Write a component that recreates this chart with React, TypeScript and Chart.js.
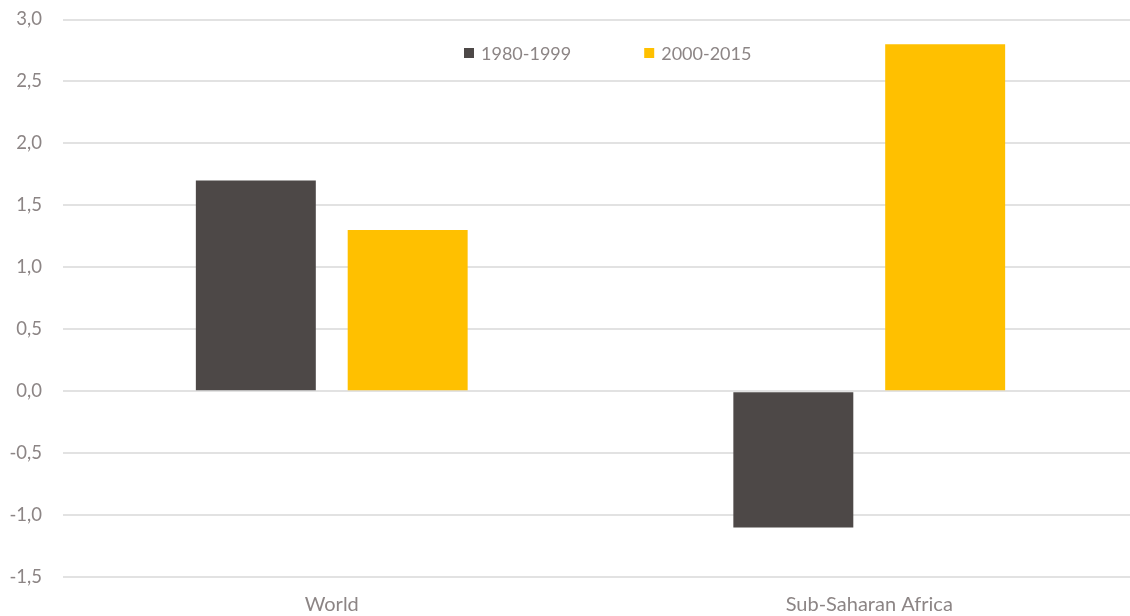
import React, { useEffect, useRef } from "react";
import { Chart, registerables } from "chart.js";

Chart.register(...registerables);

const categories = ["World", "Sub-Saharan Africa"];
const seriesNames = ["1980-1999", "2000-2015"];
const values1980 = [1.7, -1.1];
const values2000 = [1.3, 2.8];
const yTicks = [-1.5, -1.0, -0.5, 0.0, 0.5, 1.0, 1.5, 2.0, 2.5, 3.0];

const DARK = "#4d4847";
const YELLOW = "#ffc000";
const TEXT = "#8c8585";
const FONT = "Lato, 'Liberation Sans', sans-serif";

const legendPlugin = {
  id: "customLegend",
  afterDraw(chart: any) {
    const ctx = chart.ctx;
    ctx.save();
    ctx.font = `18px ${FONT}`;
    ctx.textBaseline = "middle";
    ctx.textAlign = "left";
    const y = 53;
    const box = 10;
    const gapBoxText = 7;
    const itemGap = 73;
    let x = 464;
    chart.data.datasets.forEach((d: any) => {
      ctx.fillStyle = d.backgroundColor;
      ctx.fillRect(x, y - box / 2, box, box);
      ctx.fillStyle = TEXT;
      ctx.fillText(d.label, x + box + gapBoxText, y + 1);
      x += box + gapBoxText + ctx.measureText(d.label).width + itemGap;
    });
    ctx.restore();
  },
};

export default function App() {
  const ref = useRef<HTMLCanvasElement | null>(null);
  useEffect(() => {
    if (!ref.current) return;
    const chart = new Chart(ref.current, {
      type: "bar",
      data: {
        labels: categories,
        datasets: [
          { label: seriesNames[0], data: values1980, backgroundColor: DARK, categoryPercentage: 0.565, barPercentage: 0.79 },
          { label: seriesNames[1], data: values2000, backgroundColor: YELLOW, categoryPercentage: 0.565, barPercentage: 0.79 },
        ],
      },
      options: {
        responsive: false,
        animation: false,
        layout: { padding: { top: 19.5, right: 8, bottom: 0, left: 0 } },
        plugins: { legend: { display: false }, tooltip: { enabled: false } },
        scales: {
          x: {
            grid: { display: false, drawTicks: false },
            border: { display: false },
            ticks: { color: TEXT, font: { family: FONT, size: 20 }, padding: 16, maxRotation: 0 },
            afterFit: (s: any) => { s.height = 39; s.paddingLeft = 0; s.paddingRight = 0; },
          },
          y: {
            min: -1.5,
            max: 3,
            afterBuildTicks: (s: any) => { s.ticks = yTicks.map((v) => ({ value: v })); },
            grid: { color: "#e2e2e2", lineWidth: 2, drawTicks: false },
            border: { display: false },
            ticks: {
              color: TEXT,
              font: { family: FONT, size: 18.5 },
              padding: 21,
              callback: (v: any) => Number(v).toFixed(1).replace(".", ","),
            },
            afterFit: (s: any) => { s.width = 63; s.paddingTop = 0; s.paddingBottom = 0; },
          },
        },
      },
      plugins: [legendPlugin],
    });
    return () => chart.destroy();
  }, []);
  return (
    <div style={{ position: "fixed", left: 0, top: 0, width: 1130, height: 616, overflow: "hidden", background: "#fff" }}>
      <canvas ref={ref} width={1146} height={616} style={{ display: "block" }} />
    </div>
  );
}
